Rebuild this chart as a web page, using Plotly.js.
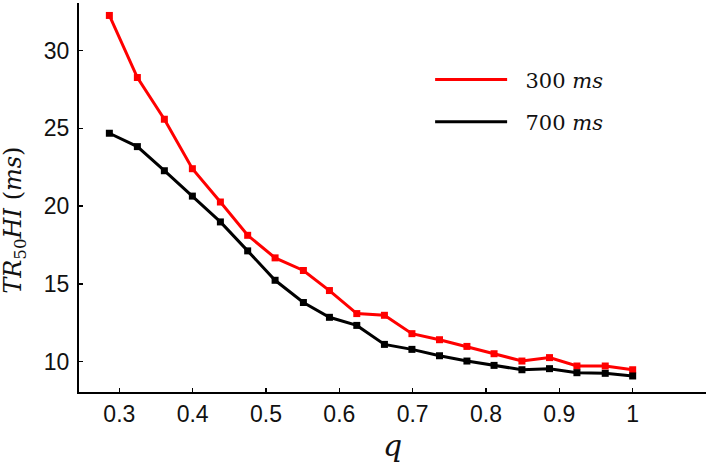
<!DOCTYPE html>
<html>
<head>
<meta charset="utf-8">
<script src="https://cdn.plot.ly/plotly-3.0.1.min.js"></script>
<style>html,body{margin:0;padding:0;background:#fff;}#chart{width:709px;height:463px;}</style>
</head>
<body>
<div id="chart"></div>
<script>
const q = [0.2864, 0.3246, 0.3614, 0.3996, 0.4378, 0.4750, 0.5124, 0.5510, 0.5865, 0.6238,
           0.6615, 0.6990, 0.7366, 0.7740, 0.8110, 0.8490, 0.8866, 0.9240, 0.9626, 1.0000];
const tr300 = [32.25, 28.26, 25.58, 22.40, 20.26, 18.12, 16.67, 15.86, 14.57, 13.09,
               12.98, 11.80, 11.41, 10.98, 10.51, 10.04, 10.26, 9.72, 9.72, 9.48];
const tr700 = [24.68, 23.82, 22.27, 20.64, 18.98, 17.12, 15.23, 13.80, 12.85, 12.33,
               11.11, 10.79, 10.38, 10.04, 9.76, 9.48, 9.55, 9.29, 9.25, 9.08];
const seriesNames = ['\u00a0\u00a0300 <i>ms</i>', '\u00a0\u00a0700 <i>ms</i>'];
const seriesColors = ['#ff0000', '#000000'];
const xTicks = [0.3, 0.4, 0.5, 0.6, 0.7, 0.8, 0.9, 1.0];
const xTickText = ['0.3', '0.4', '0.5', '0.6', '0.7', '0.8', '0.9', '1'];
const yTicks = [10, 15, 20, 25, 30];

const series = [tr300, tr700];
const traces = [];
series.forEach((ys, i) => {
  traces.push({
    x: q, y: ys, type: 'scatter', mode: 'lines', name: seriesNames[i],
    legendgroup: 'g' + i, showlegend: true,
    line: {color: seriesColors[i], width: 3}
  });
});
series.forEach((ys, i) => {
  traces.push({
    x: q, y: ys, type: 'scatter', mode: 'markers', showlegend: false,
    marker: {symbol: 'square', size: 7, color: seriesColors[i]}
  });
});

const layout = {
  width: 709, height: 463,
  margin: {l: 79, r: 3, t: 3, b: 71},
  paper_bgcolor: '#fff', plot_bgcolor: '#fff',
  showlegend: true,
  legend: {
    x: 0.56, y: 0.855, xanchor: 'left', yanchor: 'top',
    bgcolor: 'rgba(0,0,0,0)', borderwidth: 0,
    font: {family: 'DejaVu Serif', size: 21, color: '#111'},
    tracegroupgap: 12, itemwidth: 72
  },
  xaxis: {
    range: [0.245, 1.1], tickmode: 'array', tickvals: xTicks, ticktext: xTickText,
    showgrid: false, zeroline: false, showline: true, linecolor: '#000', linewidth: 2,
    ticks: 'inside', ticklen: 4, tickwidth: 1.5, tickcolor: '#000',
    tickfont: {family: 'Liberation Sans, Arial', size: 23, color: '#111'},
    title: {text: '<i>q</i>', font: {family: 'DejaVu Serif', size: 30, color: '#111'}, standoff: 10}
  },
  yaxis: {
    range: [8.05, 33.05], tickmode: 'array', tickvals: yTicks,
    showgrid: false, zeroline: false, showline: true, linecolor: '#000', linewidth: 2,
    ticks: 'inside', ticklen: 4, tickwidth: 1.5, tickcolor: '#000',
    tickfont: {family: 'Liberation Sans, Arial', size: 23, color: '#111'},
    ticklabelstandoff: 3
  },
  annotations: [{
    xref: 'paper', yref: 'paper', x: -0.104, y: 0.442, xanchor: 'center', yanchor: 'middle',
    textangle: -90, showarrow: false,
    text: '<i>TR</i><sub>50</sub><i>HI</i> (<i>ms</i>)',
    font: {family: 'DejaVu Serif', size: 24, color: '#111'}
  }]
};

Plotly.newPlot('chart', traces, layout, {displayModeBar: false, staticPlot: true});
</script>
</body>
</html>
